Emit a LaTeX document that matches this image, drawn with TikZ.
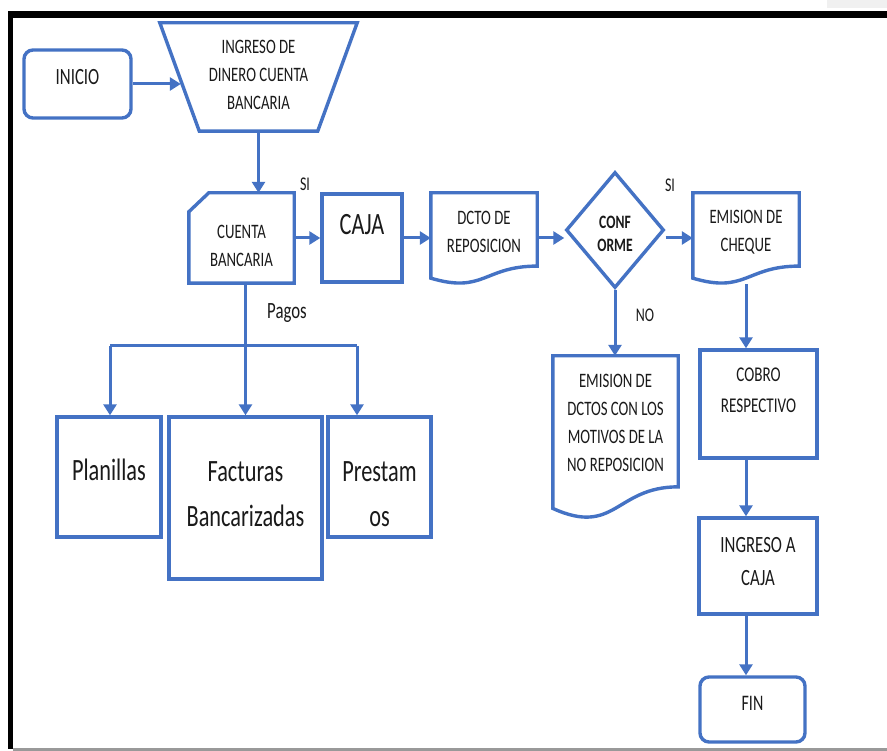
\documentclass[tikz,border=0pt]{standalone}
\usepackage{fontspec}
\setmainfont{Carlito}[FakeStretch=0.72]
\usetikzlibrary{arrows.meta,shapes.geometric,calc}
\definecolor{flowblue}{HTML}{4472C4}
\definecolor{txtc}{HTML}{1A1A1A}
\definecolor{topgray}{HTML}{F0F0F0}

\tikzset{
  box/.style={draw=flowblue,line width=3.4pt,inner sep=0pt,minimum width=#1},
  shapeonly/.style={draw=none,inner sep=0pt,minimum width=#1},
  flow/.style={draw=flowblue,line width=3pt,-{Triangle[length=11pt,width=13pt]}},
  plain/.style={draw=flowblue,line width=3pt},
  outline/.style={draw=flowblue,line width=3.4pt,line join=miter},
  tsmall/.style={text=txtc,align=center,font=\fontsize{20.5}{28}\selectfont},
  tmid/.style={text=txtc,align=center,font=\fontsize{23.3}{33}\selectfont},
  tbig/.style={text=txtc,align=center,font=\fontsize{31}{45}\selectfont},
  tdia/.style={text=txtc,align=center,font=\fontsize{18.9}{23}\selectfont\bfseries},
  tag/.style={text=txtc,inner sep=0pt,font=\fontsize{19.4}{22}\selectfont},
}

% wavy-bottom document outline drawn around a node
\newcommand\docoutline[1]{%
  \draw[outline] let \p1=(#1.north west), \p2=(#1.south east), \n1={\y1-\y2} in
    (\x1,\y1) -- (\x2,\y1) -- (\x2,\y1-0.802*\n1)
    .. controls ({(\x1+\x2)/2},\y1-0.802*\n1) and ({(\x1+\x2)/2},\y1-1.1075*\n1) ..
    (\x1,\y1-0.934*\n1) -- cycle;}

\begin{document}
\begin{tikzpicture}[x=1pt,y=-1pt]
\useasboundingbox (0,0) rectangle (887,751);
\fill[white] (0,0) rectangle (887,751);

% page frame
\fill[topgray] (827,0) rectangle (887,8);
\fill[black] (8,11) rectangle (887,18);
\fill[black] (8,11) rectangle (13,749);
\fill[gray!80] (13,748) rectangle (887,751);

% start and input
\node[box=107pt,rounded corners=9pt,minimum height=68pt,
      label={[tmid,yshift=7pt]center:INICIO}] (inicio) at (77.5,84) {};
\node[shapeonly=197pt,minimum height=108pt,
      label={[tsmall,yshift=2pt]center:INGRESO DE\\DINERO CUENTA\\BANCARIA}] (ing) at (258.5,77) {};
\draw[outline] (ing.north west) -- (ing.north east)
  -- ($(ing.south east)+(-39.5pt,0)$) -- ($(ing.south west)+(39.5pt,0)$) -- cycle;

% main row
\node[shapeonly=105pt,minimum height=90pt,
      label={[tsmall,yshift=-8pt]center:CUENTA\\BANCARIA}] (cb) at (241.5,238) {};
\draw[outline] ($(cb.north west)+(20pt,0)$) -- (cb.north east) -- (cb.south east)
  -- (cb.south west) -- ($(cb.north west)+(0,-19pt)$) -- cycle;

\node[box=80pt,minimum height=88pt,
      label={[tbig,yshift=13pt]center:CAJA}] (caja) at (362,238) {};

\node[shapeonly=106pt,minimum height=91pt,
      label={[tsmall,yshift=7pt]center:DCTO DE\\REPOSICION}] (dcto) at (484,238.5) {};
\docoutline{dcto}

\node[box=98pt,diamond,minimum height=116pt,
      label={[tdia,yshift=-3.5pt]center:CONF\\ORME}] (dia) at (615,230) {};

\node[shapeonly=106pt,minimum height=91pt,
      label={[tsmall,yshift=6.5pt]center:EMISION DE\\CHEQUE}] (cheq) at (746,238.5) {};
\docoutline{cheq}

% rejection branch
\node[shapeonly=125pt,minimum height=163pt,
      label={[tsmall,yshift=15pt]center:EMISION DE\\DCTOS CON LOS\\MOTIVOS DE LA\\NO REPOSICION}] (ndoc) at (615.5,437.5) {};
\docoutline{ndoc}

% approval branch
\node[box=117pt,minimum height=108pt,
      label={[tsmall,font=\fontsize{21}{31}\selectfont,yshift=13.5pt]center:COBRO\\RESPECTIVO}] (cobro) at (758.5,404) {};
\node[box=118pt,minimum height=96pt,
      label={[tmid,yshift=4.5pt]center:INGRESO A\\CAJA}] (ingc) at (758,566) {};
\node[box=105pt,rounded corners=9pt,minimum height=65pt,
      label={[tmid,font=\fontsize{22.2}{26}\selectfont,yshift=6.5pt]center:FIN}] (fin) at (752.5,709.5) {};

% payments
\node[box=104pt,minimum height=120pt,
      label={[tbig,yshift=7pt]center:Planillas}] (pla) at (109,477) {};
\node[box=153pt,minimum height=162pt,
      label={[tbig,yshift=3.5pt]center:Facturas\\Bancarizadas}] (fac) at (245.5,498) {};
\node[box=103pt,minimum height=120pt,
      label={[tbig,yshift=-17.5pt]center:Prestam\\os}] (pre) at (379.5,477) {};

% branch labels
\node[tag] (si1) at (305,184) {SI};
\node[tag] (si2) at (670,185) {SI};
\node[tag] (no) at (645,315) {NO};
\node[tag,font=\fontsize{23.3}{26}\selectfont] (pagos) at (287,313) {Pagos};

% connectors
\draw[flow] (inicio.east) -- ($(inicio.east -| ing.west)+(21pt,0)$);
\draw[flow] (ing.south) -- (ing.south |- cb.north);
\draw[flow] (cb.east) -- (caja.west);
\draw[flow] (caja.east) -- (caja.east -| dcto.west);
\draw[flow] (dcto.east |- caja.east) -- (caja.east -| dia.west);
\draw[flow] (caja.east -| dia.east) -- (caja.east -| cheq.west);
\draw[flow] (dia.south) -- (dia.south |- ndoc.north);
\draw[flow] (cheq.south) -- (cheq.south |- cobro.north);
\draw[flow] (cobro.south -| cheq.south) -- (ingc.north -| cheq.south);
\draw[flow] (ingc.south -| cheq.south) -- (fin.north -| cheq.south);

\coordinate (barL) at (110,346);
\coordinate (barR) at (357,346);
\draw[plain] (cb.south -| fac.north) -- (barL -| fac.north);
\draw[plain] (barL) -- (barR);
\draw[flow] (barL -| fac.north) -- (fac.north);
\draw[flow] (barL) -- (barL |- pla.north);
\draw[flow] (barR) -- (barR |- pre.north);
\end{tikzpicture}
\end{document}
